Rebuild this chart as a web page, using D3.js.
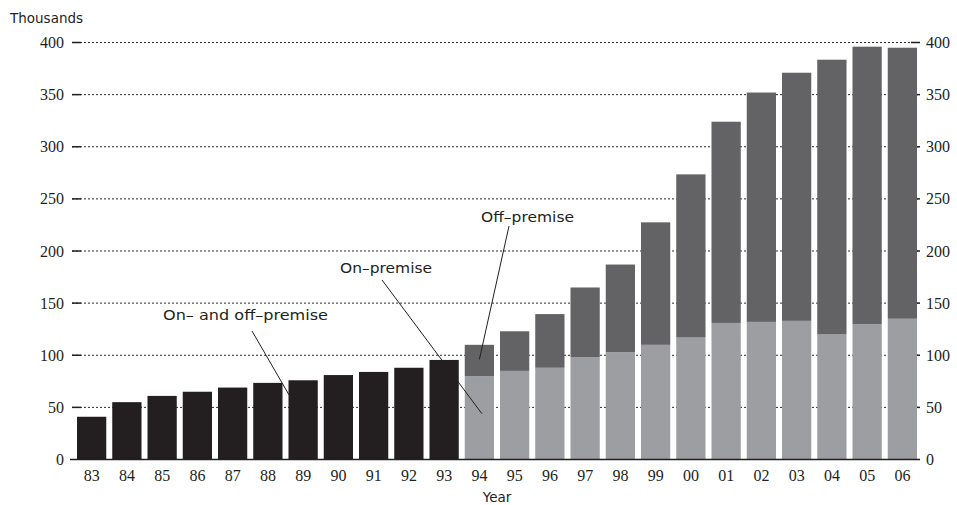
<!DOCTYPE html>
<html>
<head>
<meta charset="utf-8">
<script src="https://cdn.jsdelivr.net/npm/d3@7"></script>
<style>
  html, body { margin: 0; padding: 0; background: #fff; }
  svg { display: block; }
</style>
</head>
<body>
<svg id="chart" width="957" height="505"></svg>
<script>
// ---- data ----
const years = ["83","84","85","86","87","88","89","90","91","92","93","94","95","96","97","98","99","00","01","02","03","04","05","06"];
// 1983-1993: combined on- and off-premise (no split)
const combinedYears = ["83","84","85","86","87","88","89","90","91","92","93"];
const combinedValues = [41, 55, 61, 65, 69, 73.5, 76, 81, 84, 88, 95.5];
// 1994-2006: split
const splitYears = ["94","95","96","97","98","99","00","01","02","03","04","05","06"];
const onPremise  = [80, 85, 88, 98, 103, 110, 117, 131, 132, 133, 120, 130, 135];
const offPremise = [30, 38, 51.5, 67, 84, 117.5, 156.5, 193, 220, 238, 263.5, 266, 260];
const yTicks = [0, 50, 100, 150, 200, 250, 300, 350, 400];
const gridTicks = [50, 100, 150, 200, 250, 300, 350, 400];

// ---- scales ----
const svg = d3.select("#chart");
const x = d3.scaleBand().domain(years).range([74, 920]).paddingInner(0.17).paddingOuter(0.085);
const y = d3.scaleLinear().domain([0, 400]).range([459.5, 42.5]);

const C_BLACK = "#231f20", C_DARK = "#636264", C_LIGHT = "#9d9ea2", INK = "#231f20";
const SERIF = "Liberation Serif";
const SANS = "DejaVu Sans";

// ---- gridlines ----
const grid = svg.append("g");
grid.selectAll("line.dot").data(gridTicks).join("line")
  .attr("x1", 72).attr("x2", 920)
  .attr("y1", d => y(d)).attr("y2", d => y(d))
  .attr("stroke", "#2a2a2a").attr("stroke-width", 1)
  .attr("stroke-dasharray", "2,2");
grid.selectAll("line.l").data(gridTicks).join("line")
  .attr("x1", 72).attr("x2", 81)
  .attr("y1", d => y(d)).attr("y2", d => y(d))
  .attr("stroke", INK).attr("stroke-width", 1.5);
grid.selectAll("line.r").data(gridTicks).join("line")
  .attr("x1", 911).attr("x2", 920)
  .attr("y1", d => y(d)).attr("y2", d => y(d))
  .attr("stroke", INK).attr("stroke-width", 1.5);

// ---- bars ----
const bars = svg.append("g");
bars.selectAll("rect.comb").data(combinedYears).join("rect")
  .attr("x", d => x(d)).attr("width", x.bandwidth())
  .attr("y", (d, i) => y(combinedValues[i]))
  .attr("height", (d, i) => y(0) - y(combinedValues[i]))
  .attr("fill", C_BLACK);
bars.selectAll("rect.on").data(splitYears).join("rect")
  .attr("x", d => x(d)).attr("width", x.bandwidth())
  .attr("y", (d, i) => y(onPremise[i]))
  .attr("height", (d, i) => y(0) - y(onPremise[i]))
  .attr("fill", C_LIGHT);
bars.selectAll("rect.off").data(splitYears).join("rect")
  .attr("x", d => x(d)).attr("width", x.bandwidth())
  .attr("y", (d, i) => y(onPremise[i] + offPremise[i]))
  .attr("height", (d, i) => y(onPremise[i]) - y(onPremise[i] + offPremise[i]))
  .attr("fill", C_DARK);

// ---- baseline ----
svg.append("line")
  .attr("x1", 70).attr("x2", 920).attr("y1", y(0)).attr("y2", y(0))
  .attr("stroke", INK).attr("stroke-width", 1.5);

// ---- tick labels (serif) ----
const lab = svg.append("g").attr("fill", INK).style("font-family", SERIF).style("font-size", "16px");
lab.selectAll("text.yl").data(yTicks).join("text")
  .attr("class", "yl")
  .attr("x", 64).attr("y", d => y(d)).attr("dy", "0.35em")
  .attr("text-anchor", "end")
  .style("font-family", SERIF)
  .text(d => d);
lab.selectAll("text.yr").data(yTicks).join("text")
  .attr("class", "yr")
  .attr("x", 926).attr("y", d => y(d)).attr("dy", "0.35em")
  .attr("text-anchor", "start")
  .style("font-family", SERIF)
  .text(d => d);
lab.selectAll("text.xl").data(years).join("text")
  .attr("class", "xl")
  .attr("x", d => x(d) + x.bandwidth() / 2).attr("y", 481)
  .attr("text-anchor", "middle")
  .style("font-family", SERIF)
  .text(d => d);

// ---- titles ----
svg.append("text").attr("x", 10).attr("y", 23)
  .attr("font-family", SANS).attr("font-size", 13.5).attr("fill", INK)
  .text("Thousands");
svg.append("text").attr("x", x("94") + x.bandwidth() + 3).attr("y", 502)
  .attr("text-anchor", "middle")
  .attr("font-family", SANS).attr("font-size", 13.5).attr("fill", INK)
  .text("Year");

// ---- annotations ----
const ann = svg.append("g");
function label(txt, x0, yb, w) {
  ann.append("text").attr("x", x0).attr("y", yb)
    .attr("font-family", SANS).attr("font-size", 14.5).attr("fill", INK)
    .attr("textLength", w).attr("lengthAdjust", "spacingAndGlyphs")
    .text(txt);
}
label("Off\u2013premise", 481, 222, 93);
label("On\u2013premise", 340, 273, 92);
label("On\u2013 and off\u2013premise", 163, 320, 165);

function leader(x1, y1, x2, y2) {
  ann.append("line").attr("x1", x1).attr("y1", y1).attr("x2", x2).attr("y2", y2)
    .attr("stroke", INK).attr("stroke-width", 1);
}
leader(509, 226, x("94") + x.bandwidth() / 2, y(96));
leader(382, 280, x("94") + x.bandwidth() / 2 + 2.5, y(44));
leader(252, 331, x("89") + 0.5, y(62));
</script>
</body>
</html>
